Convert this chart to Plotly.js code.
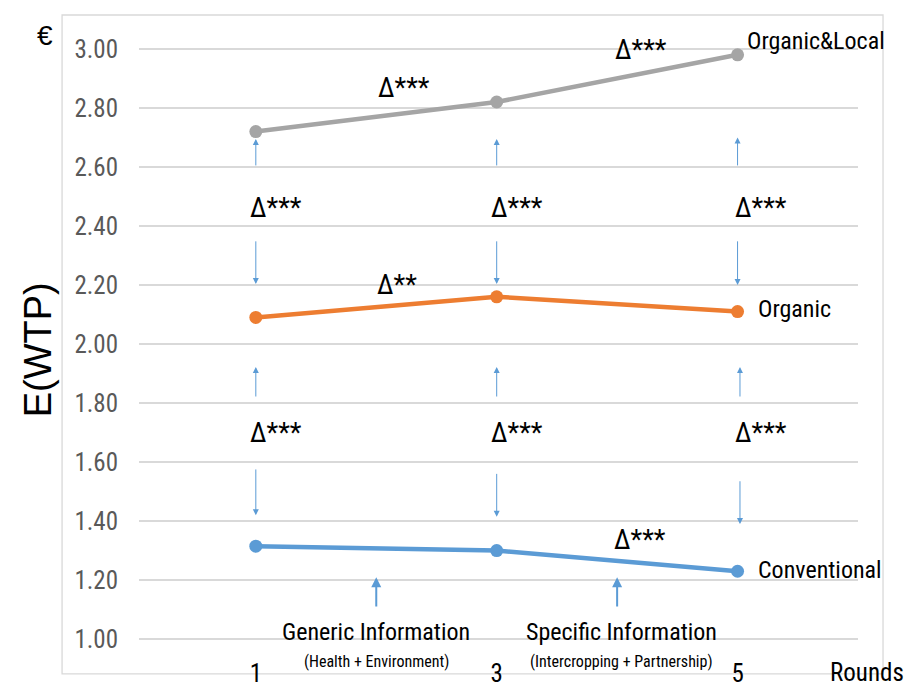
<!DOCTYPE html>
<html>
<head>
<meta charset="utf-8">
<script src="https://cdn.plot.ly/plotly-3.0.1.min.js"></script>
<style>html,body{margin:0;padding:0;background:#fff;}#chart{width:912px;height:689px;}</style>
</head>
<body>
<div id="chart"></div>
<script>
const rounds = [1, 3, 5];
const roundLabels = ["1", "3", "5"];
const seriesNames = ["Organic&Local", "Organic", "Conventional"];
const organicLocal = [2.72, 2.82, 2.98];
const organic = [2.09, 2.16, 2.11];
const conventional = [1.315, 1.30, 1.23];
const yTicks = [1.0, 1.2, 1.4, 1.6, 1.8, 2.0, 2.2, 2.4, 2.6, 2.8, 3.0];
const sig = "Δ***";
const sig2 = "Δ**";

const FONT = "'Liberation Sans Narrow', 'Arial Narrow', 'Roboto Condensed', 'Liberation Sans', sans-serif";
const colors = ["#A5A5A5", "#ED7D31", "#5B9BD5"];
const allSeries = [organicLocal, organic, conventional];

const traces = allSeries.map((vals, i) => ({
  x: rounds, y: vals, type: "scatter", mode: "lines+markers",
  name: seriesNames[i],
  line: {color: colors[i], width: 4.5},
  marker: {color: colors[i], size: 13},
  cliponaxis: false, hoverinfo: "x+y"
}));

const ann = [];
// series labels at last point
const lblShift = [[7, 14], [18, 3], [18, 1]];
allSeries.forEach((vals, i) => {
  ann.push({x: rounds[2], y: vals[2], xref: "x", yref: "y", text: seriesNames[i],
    showarrow: false, xanchor: "left", yanchor: "middle",
    xshift: lblShift[i][0], yshift: lblShift[i][1],
    font: {family: FONT, size: 24, color: "#000"}});
});
// between-series significance labels
rounds.forEach((r, j) => {
  [2.461, 1.698].forEach(yy => {
    ann.push({x: r, y: yy, xref: "x", yref: "y", text: sig, showarrow: false,
      xanchor: "left", yanchor: "middle", xshift: j === 2 ? -5 : -8,
      font: {family: FONT, size: 27, color: "#000"}});
  });
});
// within-series significance labels
[[2.233, 2.868, sig], [4.2, 2.997, sig], [2.175, 2.2, sig2], [4.19, 1.336, sig]].forEach(p => {
  ann.push({x: p[0], y: p[1], xref: "x", yref: "y", text: p[2], showarrow: false,
    xanchor: "center", yanchor: "middle", font: {family: FONT, size: 27, color: "#000"}});
});
// thin vertical arrows between series
const arrowDefs = [
  [1, 2.695, 2.60], [3, 2.695, 2.60], [5, 2.70, 2.60],
  [1, 2.203, 2.353], [3, 2.203, 2.353], [5, 2.20, 2.353],
  [1, 1.922, 1.817], [3, 1.922, 1.817], [5.02, 1.922, 1.817],
  [1, 1.42, 1.58], [3, 1.415, 1.565], [5.02, 1.39, 1.54]
];
arrowDefs.forEach(a => {
  ann.push({x: a[0], y: a[1], ax: a[0], ay: a[2], xref: "x", yref: "y", axref: "x", ayref: "y",
    text: "", showarrow: true, arrowhead: 2, arrowsize: 1.2, arrowwidth: 1, arrowcolor: "#5B9BD5", standoff: 0});
});
// information arrows
[2.0, 4.0].forEach(xx => {
  ann.push({x: xx, y: 1.21, ax: xx, ay: 1.105, xref: "x", yref: "y", axref: "x", ayref: "y",
    text: "", showarrow: true, arrowhead: 2, arrowsize: 1, arrowwidth: 2, arrowcolor: "#5B9BD5", standoff: 0});
});
const infoText = [["Generic Information", "(Health + Environment)", 2.0], ["Specific Information", "(Intercropping + Partnership)", 4.04]];
infoText.forEach(t => {
  ann.push({x: t[2], y: 0.0216, xref: "x", yref: "paper", text: t[0], showarrow: false,
    xanchor: "center", yanchor: "middle", font: {family: FONT, size: 24, color: "#000"}});
  ann.push({x: t[2], y: -0.028, xref: "x", yref: "paper", text: t[1], showarrow: false,
    xanchor: "center", yanchor: "middle", font: {family: FONT, size: 16, color: "#000"}});
});
ann.push({x: 0.958, y: -0.046, xref: "paper", yref: "paper", text: "Rounds", showarrow: false,
  xanchor: "left", yanchor: "middle", font: {family: FONT, size: 25, color: "#000"}});
ann.push({x: -0.131, y: 1.013, xref: "paper", yref: "paper", text: "€", showarrow: false,
  xanchor: "center", yanchor: "middle", font: {family: "'Liberation Sans', sans-serif", size: 28, color: "#000"}});
ann.push({x: -0.140, y: 0.49, xref: "paper", yref: "paper", text: "E(WTP)", showarrow: false,
  textangle: -90, xanchor: "center", yanchor: "middle", font: {family: "'Liberation Sans', sans-serif", size: 38, color: "#000"}});

const layout = {
  width: 912, height: 689,
  margin: {l: 139, r: 54, t: 43, b: 44},
  paper_bgcolor: "#fff", plot_bgcolor: "#fff",
  showlegend: false,
  xaxis: {range: [0.03, 6.0], tickvals: rounds, ticktext: roundLabels, showgrid: false,
    zeroline: false, showline: false, ticks: "", ticklabelstandoff: 11,
    tickfont: {family: FONT, size: 25, color: "#000"}},
  yaxis: {range: [0.98, 3.02], tickvals: yTicks, tickformat: ".2f", showgrid: true,
    gridcolor: "#D9D9D9", gridwidth: 1.3, zeroline: false, showline: false, ticks: "",
    ticklabelstandoff: 20, tickfont: {family: FONT, size: 25, color: "#595959"}},
  annotations: ann,
  shapes: [{type: "rect", xref: "paper", yref: "paper", x0: -0.107, x1: 1.0348, y0: -0.048, y1: 1.0465,
    line: {color: "#D9D9D9", width: 1.3}, fillcolor: "rgba(0,0,0,0)", layer: "below"}]
};

Plotly.newPlot("chart", traces, layout, {displayModeBar: false, staticPlot: true});
</script>
</body>
</html>
